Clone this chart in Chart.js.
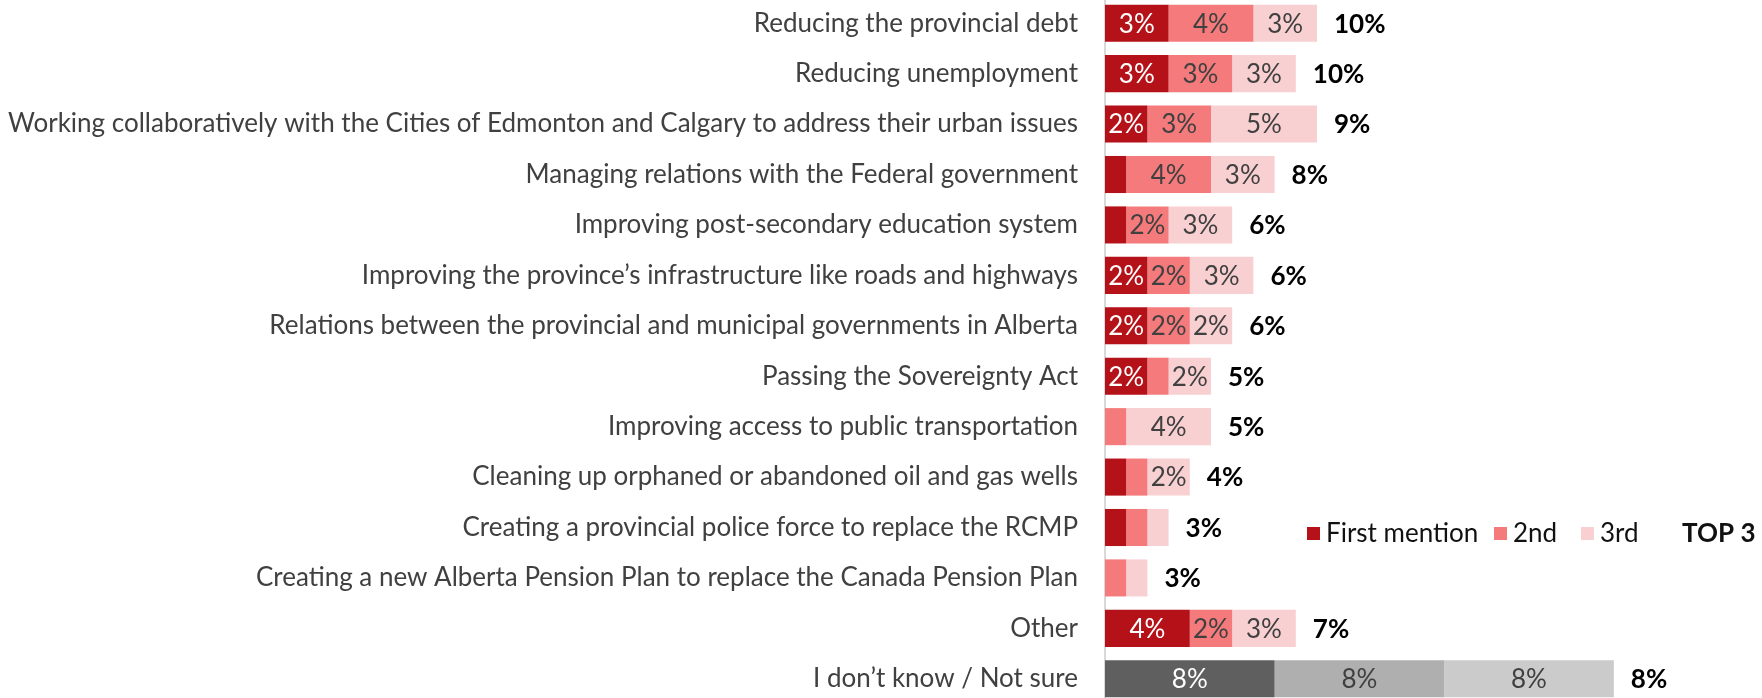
<!DOCTYPE html>
<html>
<head>
<meta charset="utf-8">
<title>Top priorities</title>
<script src="https://cdn.jsdelivr.net/npm/chart.js@4/dist/chart.umd.min.js"></script>
<style>
  html, body { margin:0; padding:0; background:#fff; overflow:hidden; }
  #wrap { position:absolute; left:0; top:-2px; width:1762px; height:706px; }
</style>
</head>
<body>
<div id="wrap"><canvas id="chart"></canvas></div>
<script>
const categories = [
  'Reducing the provincial debt',
  'Reducing unemployment',
  'Working collaboratively with the Cities of Edmonton and Calgary to address their urban issues',
  'Managing relations with the Federal government',
  'Improving post-secondary education system',
  'Improving the province’s infrastructure like roads and highways',
  'Relations between the provincial and municipal governments in Alberta',
  'Passing the Sovereignty Act',
  'Improving access to public transportation',
  'Cleaning up orphaned or abandoned oil and gas wells',
  'Creating a provincial police force to replace the RCMP',
  'Creating a new Alberta Pension Plan to replace the Canada Pension Plan',
  'Other',
  'I don’t know / Not sure'
];

const firstMention  = [3, 3, 2, 1, 1, 2, 2, 2, 0, 1, 1, 0, 4, 8];
const secondMention = [4, 3, 3, 4, 2, 2, 2, 1, 1, 1, 1, 1, 2, 8];
const thirdMention  = [3, 3, 5, 3, 3, 3, 2, 2, 4, 2, 1, 1, 3, 8];
const top3          = [10, 10, 9, 8, 6, 6, 6, 5, 5, 4, 3, 3, 7, 8];

const seriesNames = ['First mention', '2nd', '3rd'];
const redShades   = ['#b51118', '#f47a7c', '#f9d0d2'];
const grayShades  = ['#5f5f5f', '#afafaf', '#cbcbcb'];
const labelInk    = ['#ffffff', '#404040', '#404040'];

const FONT = 'Lato';
const SIZE = 26;
const NOT_SURE = categories.length - 1;

// gray bar for the "not sure" row, reds for the rest
const shadeFor = s => ctx => ctx.dataIndex === NOT_SURE ? grayShades[s] : redShades[s];

const seriesData = [firstMention, secondMention, thirdMention];

// segment values inside the bars + bold TOP 3 totals after each bar
const barLabels = {
  id: 'barLabels',
  afterDatasetsDraw(chart) {
    const ctx = chart.ctx;
    ctx.save();
    ctx.textBaseline = 'middle';
    ctx.textAlign = 'center';
    ctx.font = `${SIZE}px ${FONT}`;
    seriesData.forEach((vals, s) => {
      const meta = chart.getDatasetMeta(s);
      meta.data.forEach((bar, i) => {
        if (vals[i] < 2) return;
        ctx.fillStyle = labelInk[s];
        ctx.fillText(vals[i] + '%', (bar.x + bar.base) / 2, bar.y + 1);
      });
    });
    ctx.textAlign = 'left';
    ctx.font = `bold ${SIZE}px ${FONT}`;
    ctx.fillStyle = '#000';
    const last = chart.getDatasetMeta(2);
    last.data.forEach((bar, i) => {
      ctx.fillText(top3[i] + '%', bar.x + 17, bar.y + 1);
    });
    ctx.restore();
  }
};

// legend floating in the empty space at the right
const legendX = [1307, 1494, 1581, 1663];
const floatLegend = {
  id: 'floatLegend',
  afterDraw(chart) {
    const ctx = chart.ctx;
    const y = 536;
    ctx.save();
    ctx.textBaseline = 'middle';
    ctx.textAlign = 'left';
    const items = seriesNames.map((n, s) => ({ text: n, color: redShades[s], bold: false }))
      .concat([{ text: 'TOP 3', color: null, bold: true }]);
    items.forEach((it, k) => {
      const x = legendX[k];
      if (it.color) {
        ctx.fillStyle = it.color;
        ctx.fillRect(x, y - 7, 13, 13);
      }
      ctx.font = `${it.bold ? 'bold ' : ''}${SIZE}px ${FONT}`;
      ctx.fillStyle = '#111';
      ctx.fillText(it.text, x + 19, y);
    });
    ctx.restore();
  }
};

new Chart(document.getElementById('chart'), {
  type: 'bar',
  data: {
    labels: categories,
    datasets: seriesData.map((vals, s) => ({
      label: seriesNames[s],
      data: vals,
      backgroundColor: shadeFor(s),
      borderWidth: 0,
      barPercentage: 0.735,
      categoryPercentage: 1
    }))
  },
  options: {
    indexAxis: 'y',
    responsive: true,
    maintainAspectRatio: false,
    animation: false,
    layout: { padding: { left: 0, right: 21, top: 0, bottom: 0 } },
    plugins: { legend: { display: false }, tooltip: { enabled: false } },
    scales: {
      x: { stacked: true, min: 0, max: 30, display: false },
      y: {
        stacked: true,
        grid: { display: false, drawTicks: false },
        border: { display: true, color: '#d9d9d9', width: 2 },
        ticks: { color: '#404040', font: { family: FONT, size: SIZE }, padding: 27 },
        afterFit(scale) {
          scale.width = 1105;
          scale.paddingTop = 0;
          scale.paddingBottom = 0;
        }
      }
    }
  },
  plugins: [barLabels, floatLegend]
});
</script>
</body>
</html>
